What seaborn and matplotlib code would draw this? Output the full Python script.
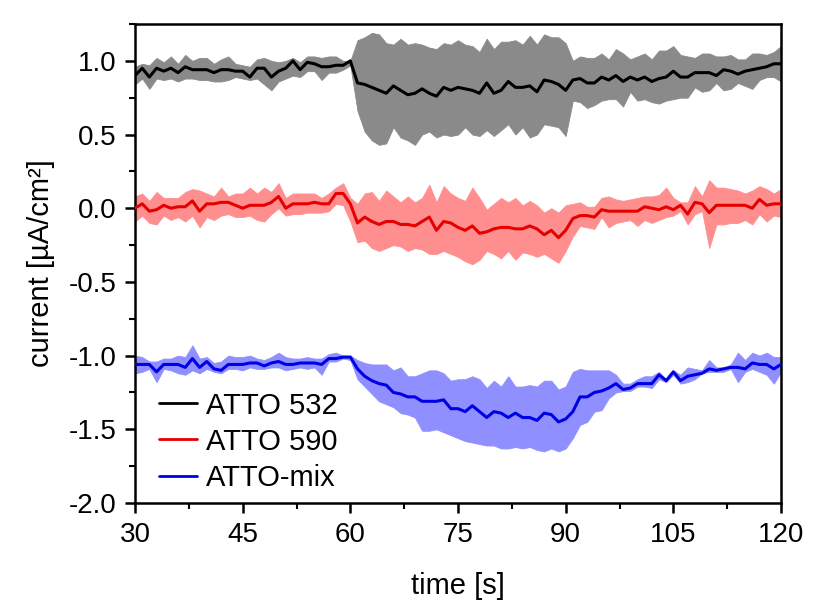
import numpy as np
import pandas as pd
import matplotlib
matplotlib.use("Agg")
import matplotlib.pyplot as plt
from matplotlib.ticker import MultipleLocator
import seaborn as sns

time = list(range(30, 121))

atto532_mean = [0.90, 0.95, 0.89, 0.95, 0.93, 0.95, 0.92, 0.96, 0.94, 0.94, 0.94, 0.92, 0.94, 0.94, 0.93, 0.93, 0.89, 0.95, 0.95, 0.89, 0.93, 0.95, 1.00, 0.94, 0.99, 0.98, 0.96, 0.96, 0.97, 0.97, 1.00,
                0.85, 0.84, 0.82, 0.80, 0.78, 0.83, 0.80, 0.77, 0.78, 0.81, 0.78, 0.76, 0.82, 0.80, 0.82, 0.81, 0.80, 0.78, 0.85, 0.78, 0.80, 0.86, 0.82, 0.82, 0.83, 0.79, 0.87, 0.86, 0.84, 0.80,
                0.87, 0.88, 0.85, 0.85, 0.89, 0.87, 0.90, 0.86, 0.89, 0.87, 0.89, 0.86, 0.88, 0.89, 0.93, 0.89, 0.89, 0.92, 0.92, 0.92, 0.90, 0.94, 0.93, 0.91, 0.93, 0.94, 0.95, 0.96, 0.98, 0.98]
atto532_upper = [0.96, 0.98, 0.97, 1.02, 0.99, 1.03, 0.98, 1.04, 1.00, 1.02, 1.02, 0.98, 1.01, 1.03, 0.98, 0.97, 0.96, 1.01, 1.02, 1.00, 0.99, 1.00, 1.02, 0.99, 1.03, 1.03, 1.02, 1.03, 1.03, 1.00, 1.00,
                 1.14, 1.16, 1.19, 1.18, 1.12, 1.11, 1.15, 1.11, 1.12, 1.11, 1.09, 1.08, 1.12, 1.11, 1.14, 1.11, 1.10, 1.06, 1.15, 1.08, 1.13, 1.13, 1.14, 1.11, 1.17, 1.11, 1.18, 1.16, 1.16, 1.12,
                 1.00, 1.03, 1.02, 1.02, 1.05, 1.01, 1.08, 1.05, 1.01, 1.03, 1.05, 1.01, 1.07, 1.07, 1.10, 1.04, 1.03, 1.02, 1.05, 1.05, 1.03, 1.03, 1.04, 1.01, 1.01, 1.05, 1.05, 1.04, 1.06, 1.10]
atto532_lower = [0.84, 0.88, 0.81, 0.88, 0.87, 0.88, 0.86, 0.88, 0.88, 0.87, 0.87, 0.86, 0.86, 0.87, 0.89, 0.88, 0.87, 0.88, 0.84, 0.80, 0.86, 0.88, 0.90, 0.89, 0.93, 0.93, 0.87, 0.92, 0.92, 0.94, 0.97,
                 0.66, 0.52, 0.46, 0.43, 0.44, 0.55, 0.48, 0.46, 0.43, 0.50, 0.52, 0.48, 0.50, 0.49, 0.50, 0.55, 0.50, 0.49, 0.53, 0.49, 0.53, 0.57, 0.50, 0.55, 0.48, 0.50, 0.57, 0.56, 0.55, 0.49,
                 0.73, 0.72, 0.68, 0.70, 0.73, 0.74, 0.74, 0.69, 0.79, 0.73, 0.74, 0.72, 0.71, 0.73, 0.74, 0.75, 0.75, 0.82, 0.79, 0.80, 0.85, 0.80, 0.81, 0.85, 0.83, 0.81, 0.87, 0.89, 0.89, 0.86]

atto590_mean = [0.00, 0.03, -0.02, -0.01, 0.02, 0.00, 0.01, 0.01, 0.05, -0.02, 0.03, 0.03, 0.04, 0.04, 0.02, 0.00, 0.02, 0.02, 0.02, 0.04, 0.08, 0.00, 0.03, 0.03, 0.03, 0.04, 0.03, 0.03, 0.10, 0.10, 0.03,
                -0.10, -0.06, -0.09, -0.11, -0.09, -0.09, -0.11, -0.11, -0.12, -0.09, -0.06, -0.15, -0.09, -0.10, -0.13, -0.15, -0.12, -0.17, -0.16, -0.14, -0.13, -0.13, -0.14, -0.14, -0.12, -0.14, -0.18, -0.15, -0.20, -0.15,
                -0.07, -0.05, -0.05, -0.06, -0.01, -0.02, -0.02, -0.02, -0.02, -0.02, 0.01, 0.00, -0.01, 0.01, -0.01, 0.02, -0.04, 0.04, 0.03, -0.03, 0.02, 0.02, 0.02, 0.02, 0.02, 0.00, 0.06, 0.02, 0.03, 0.03]
atto590_upper = [0.08, 0.10, 0.05, 0.11, 0.07, 0.07, 0.07, 0.11, 0.13, 0.12, 0.10, 0.08, 0.14, 0.08, 0.10, 0.10, 0.14, 0.10, 0.14, 0.11, 0.17, 0.07, 0.10, 0.10, 0.10, 0.10, 0.07, 0.10, 0.14, 0.17, 0.07,
                 0.03, 0.10, 0.11, 0.05, 0.12, 0.08, 0.04, 0.08, 0.04, 0.07, 0.16, 0.04, 0.15, 0.10, 0.07, 0.05, 0.14, 0.07, -0.01, 0.03, 0.07, 0.04, 0.07, 0.02, 0.05, 0.02, -0.03, 0.00, -0.03, 0.02,
                 0.03, 0.04, 0.01, 0.01, 0.07, 0.08, 0.06, 0.05, 0.06, 0.07, 0.08, 0.08, 0.09, 0.14, 0.07, 0.04, 0.04, 0.15, 0.08, 0.19, 0.14, 0.14, 0.13, 0.12, 0.10, 0.12, 0.15, 0.13, 0.10, 0.13]
atto590_lower = [-0.09, -0.05, -0.10, -0.11, -0.05, -0.08, -0.06, -0.09, -0.05, -0.13, -0.06, -0.08, -0.05, -0.04, -0.06, -0.06, -0.05, -0.08, -0.09, -0.04, 0.00, -0.05, -0.04, -0.04, -0.03, -0.03, -0.03, -0.02, 0.03, 0.02, -0.09,
                 -0.23, -0.22, -0.27, -0.29, -0.27, -0.25, -0.26, -0.29, -0.27, -0.28, -0.31, -0.31, -0.29, -0.31, -0.33, -0.36, -0.38, -0.35, -0.29, -0.31, -0.34, -0.29, -0.35, -0.30, -0.31, -0.33, -0.31, -0.34, -0.37, -0.29,
                 -0.19, -0.12, -0.13, -0.14, -0.06, -0.13, -0.10, -0.09, -0.08, -0.12, -0.08, -0.10, -0.08, -0.06, -0.05, -0.02, -0.11, -0.04, -0.02, -0.27, -0.11, -0.11, -0.10, -0.10, -0.08, -0.11, -0.04, -0.09, -0.05, -0.06]

attomix_mean = [-1.06, -1.06, -1.06, -1.11, -1.06, -1.06, -1.06, -1.08, -1.02, -1.08, -1.04, -1.09, -1.10, -1.06, -1.06, -1.06, -1.05, -1.05, -1.07, -1.05, -1.04, -1.06, -1.06, -1.05, -1.05, -1.05, -1.06, -1.02, -1.02, -1.01, -1.01,
                -1.09, -1.14, -1.17, -1.19, -1.20, -1.25, -1.26, -1.28, -1.28, -1.31, -1.31, -1.31, -1.30, -1.36, -1.36, -1.38, -1.34, -1.38, -1.42, -1.38, -1.39, -1.42, -1.39, -1.42, -1.42, -1.44, -1.39, -1.40, -1.45, -1.43,
                -1.38, -1.28, -1.28, -1.25, -1.24, -1.22, -1.19, -1.23, -1.22, -1.19, -1.19, -1.19, -1.13, -1.17, -1.11, -1.17, -1.14, -1.13, -1.12, -1.09, -1.10, -1.09, -1.08, -1.08, -1.09, -1.05, -1.06, -1.06, -1.09, -1.06]
attomix_upper = [-1.00, -1.01, -1.04, -1.04, -1.02, -1.02, -1.00, -1.01, -0.93, -1.02, -1.01, -1.05, -1.04, -1.00, -1.01, -1.01, -1.00, -1.02, -1.03, -1.01, -0.98, -1.01, -1.02, -1.02, -1.01, -1.02, -1.02, -0.99, -0.98, -1.00, -1.00,
                 -1.03, -1.05, -1.06, -1.06, -1.06, -1.10, -1.08, -1.14, -1.14, -1.12, -1.10, -1.10, -1.12, -1.17, -1.16, -1.16, -1.14, -1.16, -1.22, -1.17, -1.21, -1.14, -1.21, -1.21, -1.20, -1.21, -1.17, -1.17, -1.23, -1.21,
                 -1.11, -1.09, -1.10, -1.10, -1.10, -1.10, -1.13, -1.19, -1.19, -1.16, -1.14, -1.14, -1.11, -1.16, -1.10, -1.13, -1.08, -1.09, -1.10, -1.03, -1.08, -1.08, -1.06, -0.98, -1.03, -0.98, -1.00, -0.98, -1.01, -1.01]
attomix_lower = [-1.12, -1.11, -1.09, -1.18, -1.09, -1.10, -1.12, -1.13, -1.10, -1.12, -1.09, -1.11, -1.12, -1.09, -1.09, -1.10, -1.08, -1.09, -1.09, -1.08, -1.08, -1.10, -1.09, -1.08, -1.09, -1.08, -1.13, -1.04, -1.04, -1.02, -1.03,
                 -1.16, -1.21, -1.26, -1.31, -1.33, -1.35, -1.39, -1.40, -1.42, -1.51, -1.51, -1.50, -1.52, -1.54, -1.56, -1.58, -1.59, -1.60, -1.61, -1.61, -1.63, -1.63, -1.62, -1.63, -1.62, -1.64, -1.65, -1.63, -1.65, -1.63,
                 -1.56, -1.47, -1.45, -1.38, -1.37, -1.29, -1.25, -1.24, -1.24, -1.21, -1.21, -1.22, -1.16, -1.18, -1.13, -1.19, -1.18, -1.16, -1.12, -1.11, -1.11, -1.11, -1.09, -1.18, -1.11, -1.09, -1.11, -1.13, -1.19, -1.11]

labels = ["ATTO 532", "ATTO 590", "ATTO-mix"]
ytick_values = [-2.0, -1.5, -1.0, -0.5, 0.0, 0.5, 1.0]
ytick_labels = ["-2.0", "-1.5", "-1.0", "-0.5", "0.0", "0.5", "1.0"]

sns.set_style("ticks")
plt.rcParams["font.family"] = ["Liberation Sans", "DejaVu Sans"]
plt.rcParams["text.color"] = "black"
plt.rcParams["axes.labelcolor"] = "black"
plt.rcParams["xtick.color"] = "black"
plt.rcParams["ytick.color"] = "black"

line_colors = {"ATTO 532": "#000000", "ATTO 590": "#e60000", "ATTO-mix": "#0000e6"}
band_colors = {"ATTO 532": "#8a8a8a", "ATTO 590": "#ff8f8f", "ATTO-mix": "#8f8fff"}

series = {
    "ATTO 532": (atto532_mean, atto532_lower, atto532_upper),
    "ATTO 590": (atto590_mean, atto590_lower, atto590_upper),
    "ATTO-mix": (attomix_mean, attomix_lower, attomix_upper),
}

rows = []
for lab in labels:
    m = series[lab][0]
    for t, v in zip(time, m):
        rows.append({"time": t, "current": v, "dye": lab})
df = pd.DataFrame(rows)

fig = plt.figure(figsize=(8.2, 6.13), dpi=100)
ax = fig.add_axes([135 / 820, 1 - 503 / 613, (781 - 135) / 820, (503 - 24) / 613])

for lab in labels:
    m, lo, up = series[lab]
    ax.fill_between(time, lo, up, color=band_colors[lab], linewidth=0.6,
                    edgecolor=band_colors[lab], zorder=1)

sns.lineplot(data=df, x="time", y="current", hue="dye", hue_order=labels,
             palette=line_colors, linewidth=2.2, ax=ax, zorder=3)

ax.set_xlim(30, 120)
ax.set_ylim(-2.0, 1.25)
ax.xaxis.set_major_locator(MultipleLocator(15))
ax.xaxis.set_minor_locator(MultipleLocator(7.5))
ax.yaxis.set_minor_locator(MultipleLocator(0.25))
ax.set_yticks(ytick_values)
ax.set_yticklabels(ytick_labels)

for sp in ax.spines.values():
    sp.set_linewidth(1.8)
    sp.set_color("black")
    sp.set_visible(True)

ax.tick_params(axis="both", which="major", direction="out", length=7, width=1.8,
               labelsize=20, colors="black", top=False, right=False)
ax.tick_params(axis="x", which="major", pad=7)
ax.tick_params(axis="y", which="major", pad=6)
ax.tick_params(axis="both", which="minor", direction="out", length=4, width=1.5,
               top=False, right=False)

ax.set_xlabel("time [s]", fontsize=21, labelpad=17)
ax.set_ylabel("current [µA/cm²]", fontsize=21, labelpad=10)

leg = ax.legend(loc="center left", frameon=False, fontsize=21, handlelength=1.3,
                handletextpad=0.3, labelspacing=0.28, borderpad=0, borderaxespad=0,
                bbox_to_anchor=(0.037, 0.128))
for h in leg.get_lines():
    h.set_linewidth(2.0)

fig.savefig("out.png", dpi=100)
